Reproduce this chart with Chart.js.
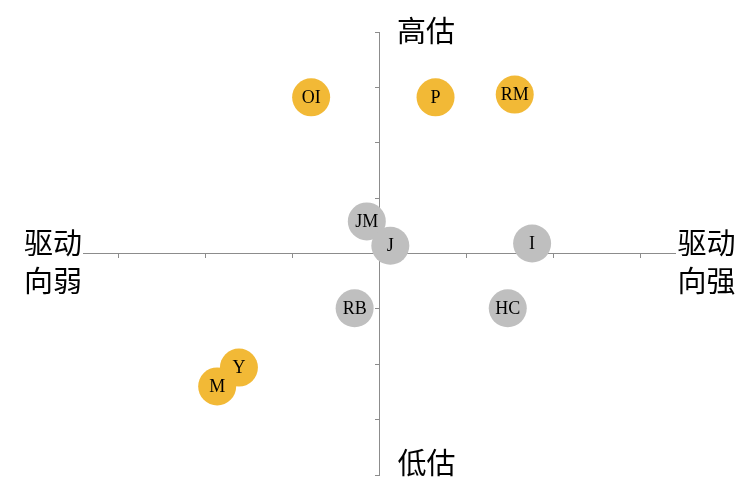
<!DOCTYPE html>
<html>
<head>
<meta charset="utf-8">
<script src="https://cdn.jsdelivr.net/npm/chart.js@4.4.0/dist/chart.umd.min.js"></script>
<style>
html,body{margin:0;padding:0;background:#fff;}
#wrap{width:750px;height:487px;position:relative;}
</style>
</head>
<body>
<div id="wrap"><canvas id="c" width="750" height="487"></canvas></div>
<script>
// Data
const names = ['OI','P','RM','JM','J','I','RB','HC','Y','M'];
const xValues = [-0.78, 0.65, 1.56, -0.14, 0.13, 1.76, -0.28, 1.48, -1.61, -1.86];
const yValues = [2.82, 2.82, 2.87, 0.58, 0.14, 0.18, -0.99, -0.99, -2.06, -2.40];
const groups = ['high','high','high','mid','mid','mid','mid','mid','high','high'];
const xTickValues = [-4,-3,-2,-1,0,1,2,3,4];
const yTickValues = [-4,-3,-2,-1,0,1,2,3,4];
const labelTop = '高估';
const labelBottom = '低估';
const labelLeft = ['驱动','向弱'];
const labelRight = ['驱动','向强'];

const groupColors = {high:'#F2B936', mid:'#BFBFBF'};
const points = names.map((n,i)=>({x:xValues[i], y:yValues[i], r:19}));

const textPlugin = {
  id:'texts',
  afterDatasetsDraw(chart){
    const ctx = chart.ctx;
    const meta = chart.getDatasetMeta(0);
    ctx.save();
    ctx.fillStyle = '#000';
    ctx.textAlign = 'center';
    ctx.textBaseline = 'middle';
    ctx.font = '18px "Liberation Serif", "Times New Roman", serif';
    meta.data.forEach((el,i)=>{
      ctx.fillText(names[i], el.x, el.y+1);
    });
    ctx.restore();
  },
  afterDraw(chart){
    const ctx = chart.ctx;
    ctx.save();
    ctx.fillStyle = '#fff';
    ctx.fillRect(18,228,65,70);
    ctx.fillRect(676,228,74,70);
    ctx.fillStyle = '#000';
    ctx.textAlign = 'center';
    ctx.textBaseline = 'middle';
    ctx.font = '29px "Noto Sans CJK SC", sans-serif';
    ctx.fillText(labelTop, 426, 31);
    ctx.fillText(labelBottom, 426.5, 463);
    ctx.fillText(labelLeft[0], 53, 243);
    ctx.fillText(labelLeft[1], 53, 281);
    ctx.fillText(labelRight[0], 706.5, 243);
    ctx.fillText(labelRight[1], 706.5, 281);
    ctx.restore();
  }
};

new Chart(document.getElementById('c'), {
  type:'bubble',
  data:{
    datasets:[{
      data: points,
      backgroundColor: groups.map(g=>groupColors[g]),
      borderWidth:0,
      hoverBorderWidth:0
    }]
  },
  options:{
    responsive:false,
    animation:false,
    events:[],
    layout:{autoPadding:false, padding:{left:31,right:23,top:32,bottom:12}},
    plugins:{legend:{display:false}, tooltip:{enabled:false}},
    scales:{
      x:{
        type:'linear', min:-4, max:4, position:{y:0},
        afterBuildTicks(s){ s.ticks = xTickValues.map(v=>({value:v})); },
        ticks:{display:false},
        grid:{drawOnChartArea:false, drawTicks:true, tickLength:4, color:'#8c8c8c'},
        border:{color:'#8c8c8c', width:1}
      },
      y:{
        type:'linear', min:-4, max:4, position:{x:0},
        afterBuildTicks(s){ s.ticks = yTickValues.map(v=>({value:v})); },
        ticks:{display:false},
        grid:{drawOnChartArea:false, drawTicks:true, tickLength:4, color:'#8c8c8c'},
        border:{color:'#8c8c8c', width:1}
      }
    }
  },
  plugins:[textPlugin]
});
</script>
</body>
</html>
